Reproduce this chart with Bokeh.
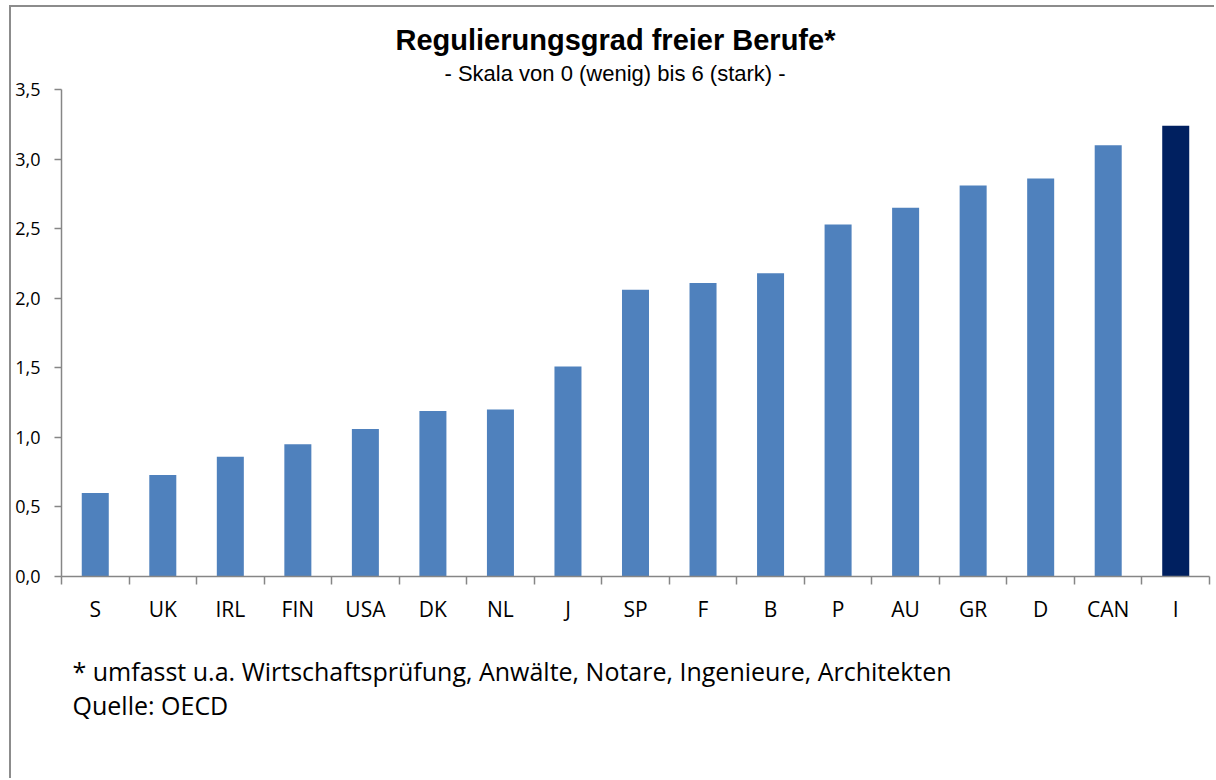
from bokeh.plotting import figure
from bokeh.models import Range1d, FixedTicker, ColumnDataSource, Title
from bokeh.embed import file_html
from bokeh.resources import INLINE

countries = ["S", "UK", "IRL", "FIN", "USA", "DK", "NL", "J", "SP", "F", "B", "P", "AU", "GR", "D", "CAN", "I"]
values = [0.60, 0.73, 0.86, 0.95, 1.06, 1.19, 1.20, 1.51, 2.06, 2.11, 2.18, 2.53, 2.65, 2.81, 2.86, 3.10, 3.24]
y_ticks = [0.0, 0.5, 1.0, 1.5, 2.0, 2.5, 3.0, 3.5]
y_tick_labels = ["0,0", "0,5", "1,0", "1,5", "2,0", "2,5", "3,0", "3,5"]
highlight = "I"

title_text = "Regulierungsgrad freier Berufe*"
subtitle_text = "- Skala von 0 (wenig) bis 6 (stark) -"
note1 = "* umfasst  u.a. Wirtschaftsprüfung, Anwälte, Notare, Ingenieure, Architekten"
note2 = "Quelle: OECD"

W, H = 1205, 773
n = len(countries)
centers = [i + 0.5 for i in range(n)]
colors = ["#002060" if c == highlight else "#4F81BD" for c in countries]

src = ColumnDataSource(dict(x=centers, top=values, color=colors, name=countries))

p = figure(width=W, height=H, output_backend="svg", toolbar_location=None,
           x_range=Range1d(0, n), y_range=Range1d(0, 3.5),
           min_border_left=50, min_border_right=7, min_border_top=82, min_border_bottom=204)
p.styles = {"border-left": "2px solid #8C8C8C", "border-top": "2px solid #8C8C8C",
            "margin-left": "9px", "margin-top": "5px"}
p.outline_line_color = None
p.background_fill_color = "white"
p.border_fill_color = "white"
p.xgrid.visible = False
p.ygrid.visible = False

p.vbar(x="x", top="top", width=0.4, bottom=0, color="color", line_color=None, source=src)

axis_col = "#868686"
fontf = "Open Sans"

xa = p.xaxis[0]
xa.ticker = FixedTicker(ticks=centers, minor_ticks=list(range(n + 1)))
xa.major_label_overrides = {c: name for c, name in zip(centers, countries)}
xa.major_tick_out = 0
xa.major_tick_in = 0
xa.minor_tick_out = 8
xa.minor_tick_in = 0
xa.minor_tick_line_color = axis_col
xa.minor_tick_line_width = 1.5
xa.axis_line_color = axis_col
xa.axis_line_width = 1.5
xa.major_label_text_font = fontf
xa.major_label_text_font_size = "21px"
xa.major_label_text_color = "black"
xa.major_label_standoff = 10

ya = p.yaxis[0]
ya.ticker = FixedTicker(ticks=y_ticks, minor_ticks=[])
ya.major_label_overrides = {t: l for t, l in zip(y_ticks, y_tick_labels)}
ya.major_tick_out = 7
ya.major_tick_in = 0
ya.major_tick_line_color = axis_col
ya.major_tick_line_width = 1.5
ya.axis_line_color = axis_col
ya.axis_line_width = 1.5
ya.major_label_text_font = fontf
ya.major_label_text_font_size = "18px"
ya.major_label_text_color = "black"
ya.major_label_standoff = 14

# titles above the plot (first added sits closest to the frame)
p.add_layout(Title(text=subtitle_text, align="left", offset=383, standoff=7,
                   text_font="Liberation Sans", text_font_size="22px", text_line_height=0.85,
                   text_font_style="normal", text_color="black"), "above")
p.add_layout(Title(text=title_text, align="left", offset=334, standoff=0,
                   text_font="Liberation Sans", text_font_size="29px",
                   text_font_style="bold", text_color="black"), "above")

# notes below the x axis (two lines in one block)
p.add_layout(Title(text=note1 + "\n" + note2, align="left", offset=11, standoff=53,
                   text_font=fontf, text_font_size="25px", text_line_height=1.0,
                   text_font_style="normal", text_color="black"), "below")

open("out.html", "w").write(file_html(p, INLINE))
